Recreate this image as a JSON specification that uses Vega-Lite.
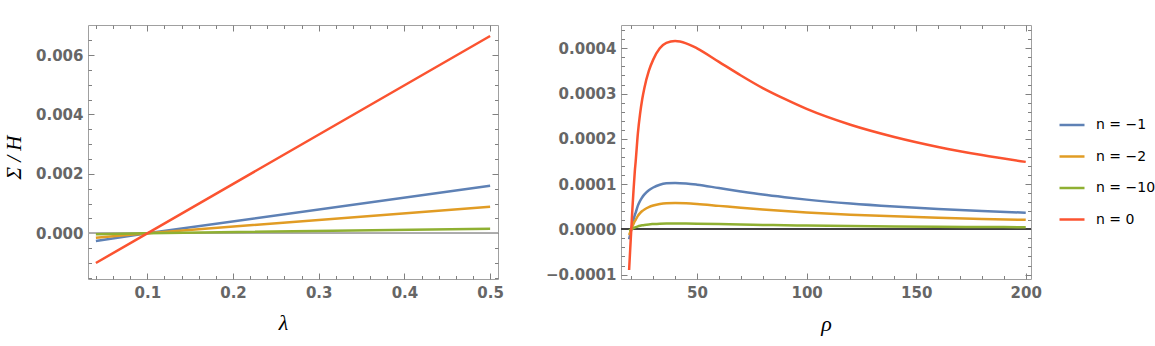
{
  "$schema": "https://vega.github.io/schema/vega-lite/v6.json",
  "autosize": {"type": "none"},
  "padding": {"left": 88, "top": 25, "right": 1067, "bottom": 321},
  "background": "white",
  "bounds": "flush",
  "spacing": 123,
  "config": {
    "view": {"stroke": "#a0a0a0", "strokeWidth": 1},
    "axis": {
      "labelFont": "DejaVu Sans", "labelFontWeight": "bold", "labelFontSize": 15, "labelColor": "#666666",
      "titleFont": "Liberation Serif", "titleFontStyle": "italic", "titleFontWeight": "normal", "titleFontSize": 22, "titleColor": "#000000",
      "grid": false, "domain": false, "tickColor": "#808080", "tickWidth": 1, "labelFlush": false
    },
    "legend": {
      "orient": "none", "legendX": 970, "legendY": 86, "padding": 0,
      "symbolType": "stroke", "symbolSize": 625, "symbolStrokeWidth": 2.5,
      "labelFont": "DejaVu Sans", "labelFontSize": 14, "labelColor": "#000000", "labelOffset": 10, "rowPadding": 10.5
    }
  },
  "datasets": {
    "lam": [
      {"x": 0.04, "v": -0.00026, "s": "n = −1"}, {"x": 0.1, "v": 0, "s": "n = −1"}, {"x": 0.5, "v": 0.0016, "s": "n = −1"},
      {"x": 0.04, "v": -0.00015, "s": "n = −2"}, {"x": 0.1, "v": 0, "s": "n = −2"}, {"x": 0.5, "v": 0.000897, "s": "n = −2"},
      {"x": 0.04, "v": -0.00003, "s": "n = −10"}, {"x": 0.1, "v": 0, "s": "n = −10"}, {"x": 0.5, "v": 0.000157, "s": "n = −10"},
      {"x": 0.04, "v": -0.001, "s": "n = 0"}, {"x": 0.1, "v": 0, "s": "n = 0"}, {"x": 0.5, "v": 0.00664, "s": "n = 0"}
    ],
    "rho": [
      {"r": 19, "v": -0.0000222, "s": "n = −1"}, {"r": 19.5, "v": -0.0000108, "s": "n = −1"}, {"r": 20, "v": 0, "s": "n = −1"}, {"r": 20.5, "v": 0.0000111, "s": "n = −1"}, {"r": 21, "v": 0.000021, "s": "n = −1"}, {"r": 21.6, "v": 0.0000316, "s": "n = −1"}, {"r": 22, "v": 0.000037, "s": "n = −1"}, {"r": 23, "v": 0.0000523, "s": "n = −1"}, {"r": 24, "v": 0.0000629, "s": "n = −1"}, {"r": 25, "v": 0.000071, "s": "n = −1"}, {"r": 26, "v": 0.0000772, "s": "n = −1"}, {"r": 28, "v": 0.0000863, "s": "n = −1"}, {"r": 30, "v": 0.0000924, "s": "n = −1"}, {"r": 33, "v": 0.0000986, "s": "n = −1"}, {"r": 36, "v": 0.0001016, "s": "n = −1"}, {"r": 40, "v": 0.0001025, "s": "n = −1"}, {"r": 45, "v": 0.0001013, "s": "n = −1"}, {"r": 50, "v": 0.0000986, "s": "n = −1"}, {"r": 60, "v": 0.0000912, "s": "n = −1"}, {"r": 70, "v": 0.0000838, "s": "n = −1"}, {"r": 80, "v": 0.0000769, "s": "n = −1"}, {"r": 90, "v": 0.000071, "s": "n = −1"}, {"r": 100, "v": 0.0000656, "s": "n = −1"}, {"r": 120, "v": 0.0000569, "s": "n = −1"}, {"r": 140, "v": 0.0000503, "s": "n = −1"}, {"r": 160, "v": 0.0000449, "s": "n = −1"}, {"r": 180, "v": 0.0000404, "s": "n = −1"}, {"r": 200, "v": 0.0000367, "s": "n = −1"},
      {"r": 19, "v": -0.0000126, "s": "n = −2"}, {"r": 19.5, "v": -0.0000062, "s": "n = −2"}, {"r": 20, "v": 0, "s": "n = −2"}, {"r": 20.5, "v": 0.0000063, "s": "n = −2"}, {"r": 21, "v": 0.0000119, "s": "n = −2"}, {"r": 21.6, "v": 0.0000179, "s": "n = −2"}, {"r": 22, "v": 0.000021, "s": "n = −2"}, {"r": 23, "v": 0.0000297, "s": "n = −2"}, {"r": 24, "v": 0.0000357, "s": "n = −2"}, {"r": 25, "v": 0.0000403, "s": "n = −2"}, {"r": 26, "v": 0.0000438, "s": "n = −2"}, {"r": 28, "v": 0.000049, "s": "n = −2"}, {"r": 30, "v": 0.0000525, "s": "n = −2"}, {"r": 33, "v": 0.000056, "s": "n = −2"}, {"r": 36, "v": 0.0000577, "s": "n = −2"}, {"r": 40, "v": 0.0000582, "s": "n = −2"}, {"r": 45, "v": 0.0000575, "s": "n = −2"}, {"r": 50, "v": 0.000056, "s": "n = −2"}, {"r": 60, "v": 0.0000518, "s": "n = −2"}, {"r": 70, "v": 0.0000476, "s": "n = −2"}, {"r": 80, "v": 0.0000437, "s": "n = −2"}, {"r": 90, "v": 0.0000403, "s": "n = −2"}, {"r": 100, "v": 0.0000372, "s": "n = −2"}, {"r": 120, "v": 0.0000323, "s": "n = −2"}, {"r": 140, "v": 0.0000286, "s": "n = −2"}, {"r": 160, "v": 0.0000255, "s": "n = −2"}, {"r": 180, "v": 0.000023, "s": "n = −2"}, {"r": 200, "v": 0.0000209, "s": "n = −2"},
      {"r": 19, "v": -0.0000028, "s": "n = −10"}, {"r": 19.5, "v": -0.0000014, "s": "n = −10"}, {"r": 20, "v": 0, "s": "n = −10"}, {"r": 20.5, "v": 0.0000014, "s": "n = −10"}, {"r": 21, "v": 0.0000026, "s": "n = −10"}, {"r": 21.6, "v": 0.000004, "s": "n = −10"}, {"r": 22, "v": 0.0000047, "s": "n = −10"}, {"r": 23, "v": 0.0000066, "s": "n = −10"}, {"r": 24, "v": 0.0000079, "s": "n = −10"}, {"r": 25, "v": 0.0000089, "s": "n = −10"}, {"r": 26, "v": 0.0000097, "s": "n = −10"}, {"r": 28, "v": 0.0000109, "s": "n = −10"}, {"r": 30, "v": 0.0000116, "s": "n = −10"}, {"r": 33, "v": 0.0000124, "s": "n = −10"}, {"r": 36, "v": 0.0000128, "s": "n = −10"}, {"r": 40, "v": 0.0000129, "s": "n = −10"}, {"r": 45, "v": 0.0000127, "s": "n = −10"}, {"r": 50, "v": 0.0000124, "s": "n = −10"}, {"r": 60, "v": 0.0000115, "s": "n = −10"}, {"r": 70, "v": 0.0000105, "s": "n = −10"}, {"r": 80, "v": 0.0000097, "s": "n = −10"}, {"r": 90, "v": 0.0000089, "s": "n = −10"}, {"r": 100, "v": 0.0000082, "s": "n = −10"}, {"r": 120, "v": 0.0000072, "s": "n = −10"}, {"r": 140, "v": 0.0000063, "s": "n = −10"}, {"r": 160, "v": 0.0000056, "s": "n = −10"}, {"r": 180, "v": 0.0000051, "s": "n = −10"}, {"r": 200, "v": 0.0000046, "s": "n = −10"},
      {"r": 19, "v": -0.00009, "s": "n = 0"}, {"r": 19.5, "v": -0.000044, "s": "n = 0"}, {"r": 20, "v": 0, "s": "n = 0"}, {"r": 20.5, "v": 0.000045, "s": "n = 0"}, {"r": 21, "v": 0.000085, "s": "n = 0"}, {"r": 21.6, "v": 0.000128, "s": "n = 0"}, {"r": 22, "v": 0.00015, "s": "n = 0"}, {"r": 23, "v": 0.000212, "s": "n = 0"}, {"r": 24, "v": 0.000255, "s": "n = 0"}, {"r": 25, "v": 0.000288, "s": "n = 0"}, {"r": 26, "v": 0.000313, "s": "n = 0"}, {"r": 28, "v": 0.00035, "s": "n = 0"}, {"r": 30, "v": 0.000375, "s": "n = 0"}, {"r": 33, "v": 0.0004, "s": "n = 0"}, {"r": 36, "v": 0.000412, "s": "n = 0"}, {"r": 40, "v": 0.000416, "s": "n = 0"}, {"r": 45, "v": 0.000411, "s": "n = 0"}, {"r": 50, "v": 0.0004, "s": "n = 0"}, {"r": 60, "v": 0.00037, "s": "n = 0"}, {"r": 70, "v": 0.00034, "s": "n = 0"}, {"r": 80, "v": 0.000312, "s": "n = 0"}, {"r": 90, "v": 0.000288, "s": "n = 0"}, {"r": 100, "v": 0.000266, "s": "n = 0"}, {"r": 120, "v": 0.000231, "s": "n = 0"}, {"r": 140, "v": 0.000204, "s": "n = 0"}, {"r": 160, "v": 0.000182, "s": "n = 0"}, {"r": 180, "v": 0.000164, "s": "n = 0"}, {"r": 200, "v": 0.000149, "s": "n = 0"}
    ]
  },
  "hconcat": [
    {
      "width": 410, "height": 254,
      "data": {"name": "lam"},
      "resolve": {"axis": {"x": "independent", "y": "independent"}},
      "layer": [
        {
          "mark": {"type": "rule", "color": "#aaaaaa", "strokeWidth": 1},
          "encoding": {"y": {"datum": 0, "type": "quantitative", "scale": {"domain": [-0.001538, 0.00701], "nice": false, "zero": false}, "axis": null}}
        },
        {
          "mark": {"type": "line", "strokeWidth": 2.5},
          "encoding": {
            "x": {"field": "x", "type": "quantitative", "scale": {"domain": [0.0308, 0.5092], "nice": false, "zero": false},
                  "axis": {"values": [0.1, 0.2, 0.3, 0.4, 0.5], "format": ".1f", "ticks": false, "tickSize": 0, "labelPadding": 6, "title": "λ", "titleX": 195, "titleY": 50, "titleBaseline": "alphabetic"}},
            "y": {"field": "v", "type": "quantitative", "scale": {"domain": [-0.001538, 0.00701], "nice": false, "zero": false},
                  "axis": {"values": [0, 0.002, 0.004, 0.006], "format": ".3f", "ticks": false, "tickSize": 0, "labelPadding": 5, "title": "Σ / H", "titleFontSize": 21, "titleAngle": 270, "titleX": -68, "titleY": 132, "titleBaseline": "alphabetic", "titleAlign": "center"}},
            "color": {"field": "s", "type": "nominal",
                      "scale": {"domain": ["n = −1", "n = −2", "n = −10", "n = 0"], "range": ["#5E81B5", "#E19C24", "#8FB032", "#FB5330"]},
                      "legend": {"title": null}}
          }
        },
        {
          "mark": {"type": "point", "opacity": 0},
          "encoding": {
            "x": {"field": "x", "type": "quantitative", "scale": {"domain": [0.0308, 0.5092], "nice": false, "zero": false},
                  "axis": {"orient": "top", "offset": -254, "labels": false, "title": null, "tickSize": 6, "values": [0.1, 0.2, 0.3, 0.4, 0.5]}},
            "y": {"field": "v", "type": "quantitative", "scale": {"domain": [-0.001538, 0.00701], "nice": false, "zero": false},
                  "axis": {"orient": "right", "offset": -410, "labels": false, "title": null, "tickSize": 6, "values": [0, 0.002, 0.004, 0.006]}}
          }
        },
        {
          "mark": {"type": "point", "opacity": 0},
          "encoding": {
            "x": {"field": "x", "type": "quantitative", "scale": {"domain": [0.0308, 0.5092], "nice": false, "zero": false},
                  "axis": {"orient": "top", "offset": -254, "labels": false, "title": null, "tickSize": 3.5, "values": [0.04, 0.06, 0.08, 0.12, 0.14, 0.16, 0.18, 0.22, 0.24, 0.26, 0.28, 0.32, 0.34, 0.36, 0.38, 0.42, 0.44, 0.46, 0.48]}},
            "y": {"field": "v", "type": "quantitative", "scale": {"domain": [-0.001538, 0.00701], "nice": false, "zero": false},
                  "axis": {"orient": "right", "offset": -410, "labels": false, "title": null, "tickSize": 3.5, "values": [-0.0015, -0.001, -0.0005, 0.0005, 0.001, 0.0015, 0.0025, 0.003, 0.0035, 0.0045, 0.005, 0.0055, 0.0065]}}
          }
        },
        {
          "mark": {"type": "point", "opacity": 0},
          "encoding": {
            "x": {"field": "x", "type": "quantitative", "scale": {"domain": [0.0308, 0.5092], "nice": false, "zero": false},
                  "axis": {"orient": "bottom", "offset": -254, "labels": false, "title": null, "tickSize": 6, "values": [0.1, 0.2, 0.3, 0.4, 0.5]}},
            "y": {"field": "v", "type": "quantitative", "scale": {"domain": [-0.001538, 0.00701], "nice": false, "zero": false},
                  "axis": {"orient": "left", "offset": -410, "labels": false, "title": null, "tickSize": 6, "values": [0, 0.002, 0.004, 0.006]}}
          }
        },
        {
          "mark": {"type": "point", "opacity": 0},
          "encoding": {
            "x": {"field": "x", "type": "quantitative", "scale": {"domain": [0.0308, 0.5092], "nice": false, "zero": false},
                  "axis": {"orient": "bottom", "offset": -254, "labels": false, "title": null, "tickSize": 3.5, "values": [0.04, 0.06, 0.08, 0.12, 0.14, 0.16, 0.18, 0.22, 0.24, 0.26, 0.28, 0.32, 0.34, 0.36, 0.38, 0.42, 0.44, 0.46, 0.48]}},
            "y": {"field": "v", "type": "quantitative", "scale": {"domain": [-0.001538, 0.00701], "nice": false, "zero": false},
                  "axis": {"orient": "left", "offset": -410, "labels": false, "title": null, "tickSize": 3.5, "values": [-0.0015, -0.001, -0.0005, 0.0005, 0.001, 0.0015, 0.0025, 0.003, 0.0035, 0.0045, 0.005, 0.0055, 0.0065]}}
          }
        }
      ]
    },
    {
      "width": 410, "height": 254,
      "data": {"name": "rho"},
      "resolve": {"axis": {"x": "independent", "y": "independent"}},
      "layer": [
        {
          "mark": {"type": "rule", "color": "#444444", "strokeWidth": 1},
          "encoding": {"y": {"datum": 0, "type": "quantitative", "scale": {"domain": [-0.0001098, 0.0004515], "nice": false, "zero": false}, "axis": null}}
        },
        {
          "mark": {"type": "line", "strokeWidth": 2.5, "interpolate": "monotone"},
          "encoding": {
            "x": {"field": "r", "type": "quantitative", "scale": {"domain": [15.3, 202.4], "nice": false, "zero": false},
                  "axis": {"values": [50, 100, 150, 200], "format": "d", "ticks": false, "tickSize": 0, "labelPadding": 6, "title": "ρ", "titleY": 51, "titleBaseline": "alphabetic"}},
            "y": {"field": "v", "type": "quantitative", "scale": {"domain": [-0.0001098, 0.0004515], "nice": false, "zero": false},
                  "axis": {"values": [-0.0001, 0, 0.0001, 0.0002, 0.0003, 0.0004], "format": ".4f", "ticks": false, "tickSize": 0, "labelPadding": 5, "title": null}},
            "color": {"field": "s", "type": "nominal",
                      "scale": {"domain": ["n = −1", "n = −2", "n = −10", "n = 0"], "range": ["#5E81B5", "#E19C24", "#8FB032", "#FB5330"]},
                      "legend": {"title": null}}
          }
        },
        {
          "mark": {"type": "point", "opacity": 0},
          "encoding": {
            "x": {"field": "r", "type": "quantitative", "scale": {"domain": [15.3, 202.4], "nice": false, "zero": false},
                  "axis": {"orient": "top", "offset": -254, "labels": false, "title": null, "tickSize": 6, "values": [50, 100, 150, 200]}},
            "y": {"field": "v", "type": "quantitative", "scale": {"domain": [-0.0001098, 0.0004515], "nice": false, "zero": false},
                  "axis": {"orient": "right", "offset": -410, "labels": false, "title": null, "tickSize": 6, "values": [-0.0001, 0, 0.0001, 0.0002, 0.0003, 0.0004]}}
          }
        },
        {
          "mark": {"type": "point", "opacity": 0},
          "encoding": {
            "x": {"field": "r", "type": "quantitative", "scale": {"domain": [15.3, 202.4], "nice": false, "zero": false},
                  "axis": {"orient": "top", "offset": -254, "labels": false, "title": null, "tickSize": 3.5, "values": [20, 30, 40, 60, 70, 80, 90, 110, 120, 130, 140, 160, 170, 180, 190]}},
            "y": {"field": "v", "type": "quantitative", "scale": {"domain": [-0.0001098, 0.0004515], "nice": false, "zero": false},
                  "axis": {"orient": "right", "offset": -410, "labels": false, "title": null, "tickSize": 3.5, "values": [-0.00008, -0.00006, -0.00004, -0.00002, 0.00002, 0.00004, 0.00006, 0.00008, 0.00012, 0.00014, 0.00016, 0.00018, 0.00022, 0.00024, 0.00026, 0.00028, 0.00032, 0.00034, 0.00036, 0.00038, 0.00042, 0.00044]}}
          }
        },
        {
          "mark": {"type": "point", "opacity": 0},
          "encoding": {
            "x": {"field": "r", "type": "quantitative", "scale": {"domain": [15.3, 202.4], "nice": false, "zero": false},
                  "axis": {"orient": "bottom", "offset": -254, "labels": false, "title": null, "tickSize": 6, "values": [50, 100, 150, 200]}},
            "y": {"field": "v", "type": "quantitative", "scale": {"domain": [-0.0001098, 0.0004515], "nice": false, "zero": false},
                  "axis": {"orient": "left", "offset": -410, "labels": false, "title": null, "tickSize": 6, "values": [-0.0001, 0, 0.0001, 0.0002, 0.0003, 0.0004]}}
          }
        },
        {
          "mark": {"type": "point", "opacity": 0},
          "encoding": {
            "x": {"field": "r", "type": "quantitative", "scale": {"domain": [15.3, 202.4], "nice": false, "zero": false},
                  "axis": {"orient": "bottom", "offset": -254, "labels": false, "title": null, "tickSize": 3.5, "values": [20, 30, 40, 60, 70, 80, 90, 110, 120, 130, 140, 160, 170, 180, 190]}},
            "y": {"field": "v", "type": "quantitative", "scale": {"domain": [-0.0001098, 0.0004515], "nice": false, "zero": false},
                  "axis": {"orient": "left", "offset": -410, "labels": false, "title": null, "tickSize": 3.5, "values": [-0.00008, -0.00006, -0.00004, -0.00002, 0.00002, 0.00004, 0.00006, 0.00008, 0.00012, 0.00014, 0.00016, 0.00018, 0.00022, 0.00024, 0.00026, 0.00028, 0.00032, 0.00034, 0.00036, 0.00038, 0.00042, 0.00044]}}
          }
        }
      ]
    }
  ]
}
